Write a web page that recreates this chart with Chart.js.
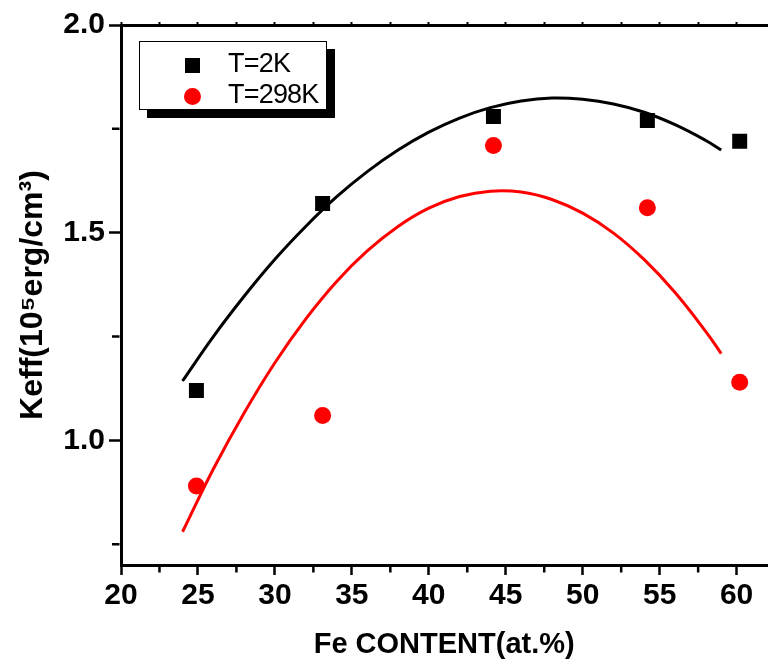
<!DOCTYPE html>
<html>
<head>
<meta charset="utf-8">
<script src="https://cdn.jsdelivr.net/npm/chart.js@4.4.0/dist/chart.umd.min.js"></script>
<style>
html,body{margin:0;padding:0;background:#fff;overflow:hidden;width:774px;height:667px;}
#wrap{position:relative;width:778px;height:667px;}
#chart{position:absolute;left:0;top:0;}
#legend{position:absolute;left:139px;top:41px;width:186px;height:67px;border:1px solid #000;background:#fff;box-shadow:8px 8px 0 #000;font-family:'Liberation Sans',Arial,sans-serif;font-size:27px;line-height:27px;letter-spacing:-0.8px;color:#000;}
#legend .mk{position:absolute;}
#legend .sq{left:44.5px;top:15.5px;width:15px;height:15px;background:#000;}
#legend .ci{left:43.5px;top:45.5px;width:17px;height:17px;border-radius:50%;background:#ff0000;}
#legend .tx{position:absolute;left:88px;white-space:nowrap;}
</style>
</head>
<body>
<div id="wrap">
  <canvas id="chart" width="778" height="667"></canvas>
  <div id="legend">
    <div class="mk sq"></div><div class="tx" id="lt1" style="top:8px"></div>
    <div class="mk ci"></div><div class="tx" id="lt2" style="top:39px"></div>
  </div>
</div>
<script>
// ---- data ----
const seriesNames = ['T=2K', 'T=298K'];
const feContent = [24.9, 33.1, 44.2, 54.2, 60.2];
const keff2K = [1.12, 1.57, 1.78, 1.77, 1.72];
const keff298K = [0.89, 1.06, 1.71, 1.56, 1.14];

// fitted curves as drawn in the picture (sampled along each curve)
const fitX = [24, 26, 28, 30, 32, 34, 36, 38, 40, 42, 44, 46, 48, 50, 52, 54, 56, 58, 59];
const fit2K = [1.143, 1.250, 1.347, 1.436, 1.515, 1.586, 1.647, 1.699, 1.742, 1.776, 1.801, 1.817, 1.824, 1.821, 1.810, 1.790, 1.760, 1.722, 1.699];
const fit298K = [0.780, 0.931, 1.066, 1.187, 1.292, 1.382, 1.456, 1.515, 1.559, 1.587, 1.600, 1.598, 1.580, 1.547, 1.499, 1.435, 1.356, 1.262, 1.209];

// axis ticks
const xMajor = [20, 25, 30, 35, 40, 45, 50, 55, 60];
const xMinor = [22.5, 27.5, 32.5, 37.5, 42.5, 47.5, 52.5, 57.5];
const yMajor = [1.0, 1.5, 2.0];
const yMinor = [0.75, 1.25, 1.75];
const xTitle = 'Fe CONTENT(at.%)';
const yTitle = 'Keff(10\u2075erg/cm\u00B3)';

document.getElementById('lt1').textContent = seriesNames[0];
document.getElementById('lt2').textContent = seriesNames[1];

const pts = (xs, ys) => xs.map((x, i) => ({x: x, y: ys[i]}));
const isIn = (arr, v) => arr.some(a => Math.abs(a - v) < 1e-6);
const mkTicks = (maj, min) => maj.concat(min).sort((a, b) => a - b).map(v => ({value: v}));

const FONT = "'Liberation Sans', Arial, sans-serif";

const minorTicks = {
  id: 'minorTicks',
  afterDraw(chart) {
    const ctx = chart.ctx, xs = chart.scales.x, ys = chart.scales.y;
    ctx.save();
    ctx.strokeStyle = '#000';
    ctx.lineWidth = 2.5;
    ctx.beginPath();
    xMinor.forEach(v => {
      const p = xs.getPixelForValue(v);
      ctx.moveTo(p, xs.top + 1.5); ctx.lineTo(p, xs.top + 7.5);
    });
    yMinor.forEach(v => {
      const p = ys.getPixelForValue(v);
      ctx.moveTo(ys.right - 1.5, p); ctx.lineTo(ys.right - 9, p);
    });
    ctx.stroke();
    ctx.restore();
  }
};

new Chart(document.getElementById('chart'), {
  type: 'scatter',
  data: {
    datasets: [
      {label: seriesNames[0], data: pts(feContent, keff2K), pointStyle: 'rect', pointRadius: 10.6, pointHoverRadius: 10.6,
       backgroundColor: '#000', borderColor: '#000', pointBorderWidth: 0, showLine: false},
      {label: seriesNames[1], data: pts(feContent, keff298K), pointStyle: 'circle', pointRadius: 8.5, pointHoverRadius: 8.5,
       backgroundColor: '#ff0000', borderColor: '#ff0000', pointBorderWidth: 0, showLine: false},
      {label: 'fit 2K', data: pts(fitX, fit2K), showLine: true, pointRadius: 0, borderColor: '#000', borderWidth: 3, tension: 0.4, fill: false},
      {label: 'fit 298K', data: pts(fitX, fit298K), showLine: true, pointRadius: 0, borderColor: '#ff0000', borderWidth: 3, tension: 0.4, fill: false}
    ]
  },
  options: {
    responsive: false,
    animation: false,
    devicePixelRatio: 1,
    layout: {padding: {left: 0, right: 2, top: 0, bottom: 0}},
    plugins: {legend: {display: false}, tooltip: {enabled: false}},
    scales: {
      x: {
        type: 'linear', position: 'bottom', min: 20, max: 62,
        afterBuildTicks: s => { s.ticks = mkTicks(xMajor, xMinor); },
        afterFit: s => { s.height = 102; },
        ticks: {autoSkip: false, maxRotation: 0, includeBounds: false, padding: 3, color: '#000',
                font: {family: FONT, size: 30, weight: 'bold'},
                callback: v => isIn(xMajor, v) ? String(v) : ''},
        grid: {drawOnChartArea: false, drawTicks: true, tickLength: 10, tickWidth: 2.5,
               tickColor: c => (c.tick && isIn(xMajor, c.tick.value)) ? '#000' : 'rgba(0,0,0,0)'},
        border: {display: true, color: '#000', width: 3},
        title: {display: true, text: xTitle, color: '#000', padding: {top: 0, bottom: 5},
                font: {family: FONT, size: 29, weight: 'bold'}}
      },
      x2: {
        type: 'linear', position: 'top', min: 20, max: 62,
        afterBuildTicks: s => { s.ticks = mkTicks(xMajor, xMinor); },
        afterFit: s => { s.height = 25; },
        ticks: {display: false, includeBounds: false},
        grid: {drawOnChartArea: false, drawTicks: true, tickLength: 3, tickWidth: 2, tickColor: '#000'},
        border: {display: true, color: '#000', width: 3}
      },
      y: {
        type: 'linear', position: 'left', min: 0.7, max: 2.0,
        afterBuildTicks: s => { s.ticks = mkTicks(yMajor, yMinor); },
        afterFit: s => { s.width = 121; },
        ticks: {autoSkip: false, includeBounds: false, padding: 4, color: '#000',
                font: {family: FONT, size: 30, weight: 'bold'},
                callback: v => isIn(yMajor, v) ? Number(v).toFixed(1) : ''},
        grid: {drawOnChartArea: false, drawTicks: true, tickLength: 12, tickWidth: 2.5,
               tickColor: c => (c.tick && isIn(yMajor, c.tick.value)) ? '#000' : 'rgba(0,0,0,0)'},
        border: {display: true, color: '#000', width: 3},
        title: {display: true, text: yTitle, color: '#000', padding: {top: 14, bottom: 0},
                font: {family: FONT, size: 32, weight: 'bold'}}
      }
    }
  },
  plugins: [minorTicks]
});
</script>
</body>
</html>
